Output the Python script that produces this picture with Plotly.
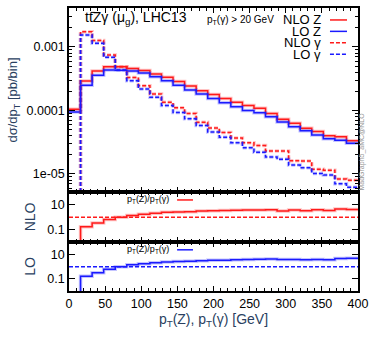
import numpy as np
import plotly.graph_objects as go
from plotly.subplots import make_subplots

# bin edges in GeV (16 GeV bins)
bin_edges = list(range(0, 401, 16))

# d sigma / d pT [pb/bin]
nlo_z = [1.05e-4, 2.9e-4, 4.2e-4, 4.9e-4, 4.9e-4, 4.6e-4, 4.25e-4, 3.75e-4, 3.33e-4, 2.85e-4,
         2.43e-4, 2.05e-4, 1.78e-4, 1.55e-4, 1.35e-4, 1.2e-4, 1.08e-4, 9.0e-5, 7.3e-5, 6.3e-5,
         5.25e-5, 4.65e-5, 4.0e-5, 3.85e-5, 3.35e-5]
lo_z = [0.95e-4, 2.5e-4, 3.6e-4, 4.35e-4, 4.3e-4, 4.2e-4, 3.9e-4, 3.4e-4, 2.95e-4, 2.5e-4,
        2.1e-4, 1.82e-4, 1.55e-4, 1.32e-4, 1.14e-4, 1.0e-4, 9.2e-5, 8.0e-5, 6.6e-5, 5.55e-5,
        4.8e-5, 4.1e-5, 3.6e-5, 3.4e-5, 3.05e-5]
nlo_a = [0, 1.74e-3, 1.26e-3, 7.5e-4, 4.9e-4, 3.3e-4, 2.45e-4, 1.82e-4, 1.35e-4, 1.1e-4,
         9.0e-5, 6.5e-5, 5.3e-5, 4.5e-5, 3.7e-5, 3.1e-5, 2.8e-5, 2.3e-5, 2.3e-5, 1.62e-5,
         1.6e-5, 1.19e-5, 1.15e-5, 8.3e-6, 8.0e-6]
lo_a = [0, 1.55e-3, 1.14e-3, 6.9e-4, 4.35e-4, 2.95e-4, 2.18e-4, 1.62e-4, 1.2e-4, 9.3e-5,
        7.4e-5, 5.8e-5, 4.6e-5, 3.8e-5, 3.1e-5, 2.6e-5, 2.2e-5, 1.85e-5, 1.7e-5, 1.38e-5,
        1.25e-5, 1.02e-5, 9.6e-6, 7.0e-6, 6.2e-6]

RED = "#ff1a1a"
BLUE = "#1a1aff"
FLOOR = 1e-12  # empty bins drawn below the axis
FONT = "Liberation Sans, Arial"


def step(vals):
    v = [x if x > 0 else FLOOR for x in vals]
    return bin_edges, v + [v[-1]]


def ratio(a, b):
    return [x / y if y > 0 else FLOOR for x, y in zip(a, b)]


fig = make_subplots(rows=3, cols=1, shared_xaxes=True, vertical_spacing=0,
                    row_heights=[0.650, 0.1767, 0.1733])

def add_step(vals, color, dash, row):
    x, y = step(vals)
    fig.add_trace(go.Scatter(x=x, y=y, mode="lines", line_shape="hv",
                             line=dict(color=color, width=3.5, dash=dash), opacity=0.25,
                             hoverinfo="skip", showlegend=False), row=row, col=1)
    fig.add_trace(go.Scatter(x=x, y=y, mode="lines", line_shape="hv",
                             line=dict(color=color, width=1.5, dash=dash),
                             showlegend=False), row=row, col=1)

add_step(nlo_z, RED, "solid", 1)
add_step(lo_z, BLUE, "solid", 1)
add_step(nlo_a, RED, "4px,2px", 1)
add_step(lo_a, BLUE, "4px,2px", 1)
add_step(ratio(nlo_z, nlo_a), RED, "solid", 2)
add_step(ratio(lo_z, lo_a), BLUE, "solid", 3)

for row, color in [(2, RED), (3, BLUE)]:
    fig.add_trace(go.Scatter(x=[0, 400], y=[1, 1], mode="lines",
                             line=dict(color=color, width=1.5, dash="4px,2px"),
                             showlegend=False), row=row, col=1)

axis_font = dict(family=FONT, size=12.5, color="black")
minor_x = dict(ticks="inside", ticklen=3, dtick=10, tickcolor="black")
for r in (1, 2, 3):
    fig.update_xaxes(range=[0, 400], ticks="inside", ticklen=5, dtick=50, tickcolor="black",
                     showline=True, linecolor="black", linewidth=1.5, mirror="ticks",
                     showgrid=False, zeroline=False, minor=minor_x, automargin=False,
                     showticklabels=(r == 3), tickfont=axis_font, row=r, col=1)

decades = [-6, -5, -4, -3, -2]
minor_main = [m * 10.0 ** d for d in decades for m in range(2, 10)]
fig.update_yaxes(type="log", range=[-5.283, -2.386], tickvals=[1e-3, 1e-4, 1e-5],
                 ticktext=["0.001", "0.0001", "1e-05"], ticks="inside", ticklen=6,
                 tickcolor="black", showline=True, linecolor="black", linewidth=1.5,
                 mirror="ticks", showgrid=False, zeroline=False, tickfont=axis_font,
                 automargin=False,
                 minor=dict(ticks="inside", ticklen=3, tickvals=minor_main, tickcolor="black"),
                 title=dict(text="dσ/dp<sub>T</sub> [pb/bin]", standoff=6,
                            font=dict(family=FONT, size=13)),
                 row=1, col=1)
for r, name in [(2, "NLO"), (3, "LO")]:
    fig.update_yaxes(type="log", range=[-2.0, 2.04], tickvals=[0.1, 10], ticktext=["0.1", "10"],
                     ticks="inside", ticklen=6, tickcolor="black", showline=True,
                     linecolor="black", linewidth=1.5, mirror="ticks", showgrid=False,
                     zeroline=False, tickfont=axis_font, automargin=False,
                     title=dict(text=name, standoff=8, font=dict(family=FONT, size=14)),
                     row=r, col=1)

fig.update_xaxes(title=dict(text="p<sub>T</sub>(Z), p<sub>T</sub>(γ) [GeV]", standoff=2,
                            font=dict(family=FONT, size=14)), row=3, col=1)

ann_font = dict(family=FONT, color="black")
annotations = [
    dict(x=0.048, y=0.946, xref="x domain", yref="y domain", xanchor="left", yanchor="middle",
         text="ttZγ (μ<sub>g</sub>), LHC13",
         showarrow=False, font=dict(ann_font, size=14)),
    dict(x=0.47, y=0.935, xref="x domain", yref="y domain", xanchor="left", yanchor="middle",
         text="p<sub>T</sub>(γ) > 20 GeV", showarrow=False, font=dict(ann_font, size=10)),
    dict(x=1.014, y=0.22, xref="x domain", yref="y domain", xanchor="center", yanchor="middle",
         text="MadGraph5_aMC@NLO", textangle=-90, showarrow=False,
         font=dict(family=FONT, size=7, color="#999999")),
]
# bar over the anti-top "t"
shapes = [dict(type="line", xref="x domain", yref="y domain", x0=0.075, x1=0.089,
               y0=0.976, y1=0.976, line=dict(color="black", width=1))]
legend = [("NLO Z", RED, "solid"), ("LO Z", BLUE, "solid"),
          ("NLO γ", RED, "dash"), ("LO γ", BLUE, "dash")]
for i, (label, color, dash) in enumerate(legend):
    yy = 0.935 - i * 0.062
    annotations.append(dict(x=0.879, y=yy, xref="x domain", yref="y domain", xanchor="right",
                            yanchor="middle", text=label, showarrow=False,
                            font=dict(ann_font, size=13)))
    shapes.append(dict(type="line", xref="x domain", yref="y domain", x0=0.903, x1=0.962,
                       y0=yy, y1=yy,
                       line=dict(color=color, width=1.5, dash="4px,2px" if dash == "dash" else "solid")))

for ax, color in [("y2", RED), ("y3", BLUE)]:
    annotations.append(dict(x=0.353, y=0.84, xref="x domain", yref=ax + " domain",
                            xanchor="right", yanchor="middle",
                            text="p<sub>T</sub>(Z)/p<sub>T</sub>(γ)",
                            showarrow=False, font=dict(ann_font, size=9)))
    shapes.append(dict(type="line", xref="x domain", yref=ax + " domain", x0=0.374, x1=0.429,
                       y0=0.84, y1=0.84, line=dict(color=color, width=1.5)))

fig.update_layout(width=382, height=340, margin=dict(l=69, r=24, t=8, b=49),
                  plot_bgcolor="white", paper_bgcolor="white",
                  annotations=annotations, shapes=shapes, showlegend=False)

fig.write_html("out.html", config={"displayModeBar": False},
               post_script="document.body.style.margin='0';")
